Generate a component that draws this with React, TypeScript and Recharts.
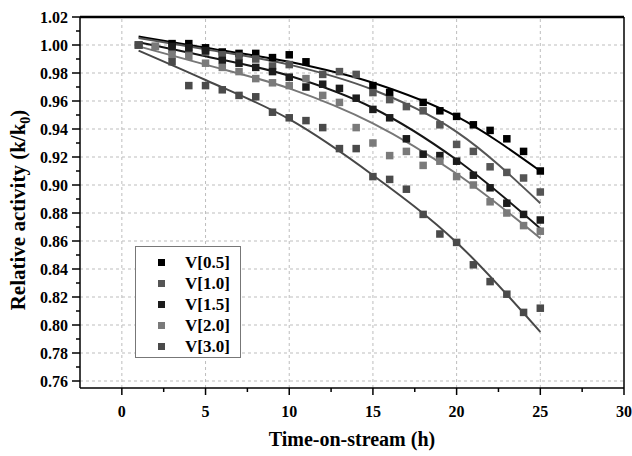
import React from "react";
import { ComposedChart, XAxis, YAxis, Scatter, Line, ReferenceLine, Legend } from "recharts";

const hours = [1, 2, 3, 4, 5, 6, 7, 8, 9, 10, 11, 12, 13, 14, 15, 16, 17, 18, 19, 20, 21, 22, 23, 24, 25];

const seriesNames = ["V[0.5]", "V[1.0]", "V[1.5]", "V[2.0]", "V[3.0]"];
const markerColors = ["#000000", "#555555", "#1c1c1c", "#7a7a7a", "#4a4a4a"];
const lineColors = ["#000000", "#555555", "#151515", "#777777", "#474747"];

const v05 = [1.0, null, 1.001, 1.001, 0.998, 0.995, 0.994, 0.994, 0.991, 0.993, 0.988, null, null, null, 0.971, 0.966, null, 0.959, 0.953, 0.949, 0.943, 0.939, 0.933, 0.924, 0.91];
const v10 = [1.0, 0.999, 0.997, 0.996, 0.995, 0.993, 0.992, 0.99, 0.985, 0.986, null, 0.979, 0.981, 0.979, 0.966, 0.961, 0.956, 0.953, 0.943, 0.929, 0.924, 0.913, 0.909, 0.905, 0.895];
const v15 = [1.0, null, 0.999, 0.998, 0.996, 0.989, 0.987, 0.984, 0.981, 0.977, 0.97, 0.972, 0.969, 0.962, 0.954, 0.948, 0.933, 0.922, 0.921, 0.917, 0.907, 0.898, 0.887, 0.879, 0.875];
const v20 = [1.0, 0.999, 0.993, 0.992, 0.987, 0.984, 0.981, 0.976, 0.973, 0.971, 0.976, 0.964, 0.959, 0.941, 0.93, 0.921, 0.924, 0.914, 0.917, 0.906, 0.9, 0.888, 0.88, 0.871, 0.867];
const v30 = [1.0, null, 0.988, 0.971, 0.971, 0.968, 0.964, 0.963, 0.952, 0.948, 0.946, 0.941, 0.926, 0.926, 0.906, 0.904, 0.897, 0.879, 0.865, 0.859, 0.843, 0.831, 0.822, 0.809, 0.812];

const fitHours = [1, 5, 10, 15, 20, 25];
const fit05 = [1.006, 0.998, 0.988, 0.973, 0.949, 0.91];
const fit10 = [1.005, 0.997, 0.986, 0.968, 0.938, 0.887];
const fit15 = [1.002, 0.992, 0.978, 0.955, 0.918, 0.869];
const fit20 = [0.999, 0.986, 0.969, 0.944, 0.908, 0.862];
const fit30 = [0.996, 0.975, 0.947, 0.907, 0.859, 0.795];

const xTicks = [0, 2.5, 5, 7.5, 10, 12.5, 15, 17.5, 20, 22.5, 25, 27.5, 30];
const yTicks = [0.76, 0.77, 0.78, 0.79, 0.8, 0.81, 0.82, 0.83, 0.84, 0.85, 0.86, 0.87, 0.88, 0.89, 0.9, 0.91, 0.92, 0.93, 0.94, 0.95, 0.96, 0.97, 0.98, 0.99, 1.0, 1.01, 1.02];

const scatterValues = [v05, v10, v15, v20, v30];
const fitValues = [fit05, fit10, fit15, fit20, fit30];

const scatterData = scatterValues.map((vals) =>
  hours.map((t, i) => ({ t, v: vals[i] })).filter((d) => d.v !== null)
);
const fitData = fitValues.map((vals) => fitHours.map((t, i) => ({ t, v: vals[i] })));

const FONT = '"Liberation Serif", "Times New Roman", serif';

const isMajorX = (v: number) => Math.abs(v % 5) < 1e-6;
const isMajorY = (v: number) => Math.round(v * 100) % 2 === 0;

const majorX = xTicks.filter((v) => isMajorX(v) && v < 30);
const majorY = yTicks.filter((v) => isMajorY(v) && v < 1.02);

const XTick = (props: any) => {
  const { x, y, payload } = props;
  const major = isMajorX(payload.value);
  return (
    <g>
      <line x1={x} x2={x} y1={y} y2={y + (major ? 7 : 4)} stroke="#000" strokeWidth={1.5} />
      {major && (
        <text x={x} y={y + 29} textAnchor="middle" fontFamily={FONT} fontWeight="bold" fontSize={16} fill="#000">
          {payload.value}
        </text>
      )}
    </g>
  );
};

const YTick = (props: any) => {
  const { x, y, payload } = props;
  const major = isMajorY(payload.value);
  return (
    <g>
      <line x1={x - (major ? 8 : 4)} x2={x} y1={y} y2={y} stroke="#000" strokeWidth={1.5} />
      {major && (
        <text x={x - 12} y={y + 5.5} textAnchor="end" fontFamily={FONT} fontWeight="bold" fontSize={16} fill="#000">
          {payload.value.toFixed(2)}
        </text>
      )}
    </g>
  );
};

const YTitle = () => (
  <text
    x={25}
    y={210}
    transform="rotate(-90, 25, 210)"
    textAnchor="middle"
    fontFamily={FONT}
    fontWeight="bold"
    fontSize={21}
    fill="#000"
  >
    Relative activity (k/k
    <tspan fontSize={14} dy={5}>0</tspan>
    <tspan dy={-5}>)</tspan>
  </text>
);

const XTitle = () => (
  <text x={352} y={446} textAnchor="middle" fontFamily={FONT} fontWeight="bold" fontSize={20} fill="#000">
    Time-on-stream (h)
  </text>
);

const LegendBox = () => (
  <div
    style={{
      width: 106,
      height: 112,
      boxSizing: "border-box",
      border: "1px solid #777",
      background: "#fff",
      paddingTop: 5,
      fontFamily: FONT,
    }}
  >
    {seriesNames.map((name, i) => (
      <div key={name} style={{ position: "relative", height: 21, lineHeight: "21px" }}>
        <span
          style={{
            position: "absolute",
            left: 22,
            top: 7,
            width: 7,
            height: 7,
            background: markerColors[i],
          }}
        />
        <span style={{ position: "absolute", left: 49, top: 0, fontWeight: "bold", fontSize: 17, color: "#000" }}>
          {name}
        </span>
      </div>
    ))}
  </div>
);

const squareShape = (color: string) => (props: any) => (
  <rect x={props.cx - 3.75} y={props.cy - 3.75} width={7.5} height={7.5} fill={color} />
);

export default function App() {
  return (
    <div style={{ position: "absolute", left: 0, top: 0, width: 632, height: 456, background: "#fff" }}>
      <ComposedChart width={632} height={456} margin={{ top: 17, right: 8, left: 0, bottom: 0 }}>
        <XAxis
          dataKey="t"
          type="number"
          domain={[-2.5, 30]}
          allowDataOverflow
          ticks={xTicks}
          interval={0}
          tickSize={0}
          tickMargin={0}
          tickLine={false}
          tick={<XTick />}
          axisLine={{ stroke: "#000", strokeWidth: 1.5 }}
          height={68}
          label={<XTitle />}
        />
        <YAxis
          dataKey="v"
          type="number"
          domain={[0.755, 1.02]}
          allowDataOverflow
          ticks={yTicks}
          interval={0}
          tickSize={0}
          tickMargin={0}
          tickLine={false}
          tick={<YTick />}
          axisLine={{ stroke: "#000", strokeWidth: 1.5 }}
          width={80}
          label={<YTitle />}
        />
        {majorY.map((v) => (
          <ReferenceLine key={"gy" + v} y={v} stroke="#bdbdbd" strokeDasharray="3 3" strokeWidth={1} />
        ))}
        {majorX.map((v) => (
          <ReferenceLine key={"gx" + v} x={v} stroke="#bdbdbd" strokeDasharray="3 3" strokeWidth={1} />
        ))}
        <ReferenceLine y={1.02} stroke="#000" strokeWidth={2.5} />
        <ReferenceLine x={30} stroke="#000" strokeWidth={1.5} />
        {scatterData.map((d, i) => (
          <Scatter
            key={"s" + i}
            name={seriesNames[i]}
            data={d}
            dataKey="v"
            shape={squareShape(markerColors[i])}
            isAnimationActive={false}
          />
        ))}
        {fitData.map((d, i) => (
          <Line
            key={"l" + i}
            data={d}
            dataKey="v"
            type="monotone"
            stroke={lineColors[i]}
            strokeWidth={2}
            dot={false}
            activeDot={false}
            legendType="none"
            isAnimationActive={false}
          />
        ))}
        <Legend
          layout="vertical"
          align="center"
          verticalAlign="middle"
          content={<LegendBox />}
          wrapperStyle={{ left: 135, top: 246, width: 106, height: 112 }}
        />
      </ComposedChart>
    </div>
  );
}
